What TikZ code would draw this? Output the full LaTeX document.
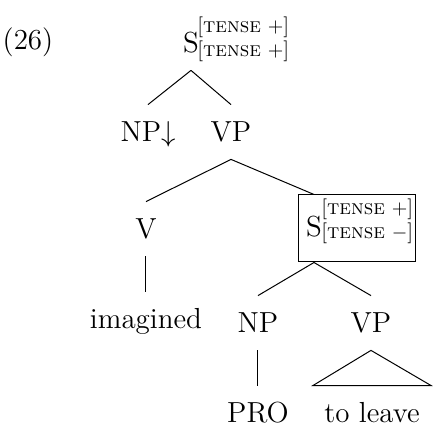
\documentclass[tikz,border=0pt]{standalone}
\usepackage{fontspec}
\begin{document}
\begin{tikzpicture}[x=0.5pt,y=-0.5pt,
  lab/.style={font=\fontsize{14.5}{17}\selectfont, anchor=base, inner xsep=0pt, inner ysep=8.5pt, text height=10pt, text depth=0pt},
  feat/.style={font=\fontsize{10.4}{12}\selectfont, anchor=base west, inner sep=0pt},
  edge/.style={draw, line width=0.5pt},
]
\useasboundingbox (0,0) rectangle (446,426);
\node[font=\fontsize{14.5}{17}\selectfont, anchor=base, inner sep=0pt] (ex) at (28,50) {(26)};
\node[lab] (s1) at (191,53) {S};
\node[feat] (f1a) at (197,33) {[\textsc{tense} $+$]};
\node[feat] (f1b) at (197,57) {[\textsc{tense} $+$]};
\node[lab] (np1) at (148,142) {NP$\downarrow$};
\node[lab] (vp1) at (231,142) {VP};
\node[lab] (v) at (146,239) {V};
\node[lab] (imag) at (146,329) {imagined};
\node[lab] (s2) at (314,237) {S};
\node[feat] (f2a) at (321,215) {[\textsc{tense} $+$]};
\node[feat] (f2b) at (321,239) {[\textsc{tense} $-$]};
\node[draw, line width=0.5pt, inner sep=0pt, minimum width=58.5pt, minimum height=33.5pt] (box) at (357.5,228.5) {};
\node[lab] (np2) at (258,333) {NP};
\node[lab] (vp2) at (371,333) {VP};
\node[lab] (pro) at (258,423) {PRO};
\node[lab, inner xsep=5.5pt] (leave) at (372,423) {to leave};
\draw[edge] (s1.south) -- (np1.north);
\draw[edge] (s1.south) -- (vp1.north);
\draw[edge] (vp1.south) -- (v.north);
\draw[edge] (vp1.south) -- (s2 |- box.north);
\draw[edge] (v.south) -- (imag.north);
\draw[edge] (s2 |- box.south) -- (np2.north);
\draw[edge] (s2 |- box.south) -- (vp2.north);
\draw[edge] (np2.south) -- (pro.north);
\draw[edge] (vp2.south) -- (leave.north west) -- (leave.north east) -- cycle;
\end{tikzpicture}
\end{document}
